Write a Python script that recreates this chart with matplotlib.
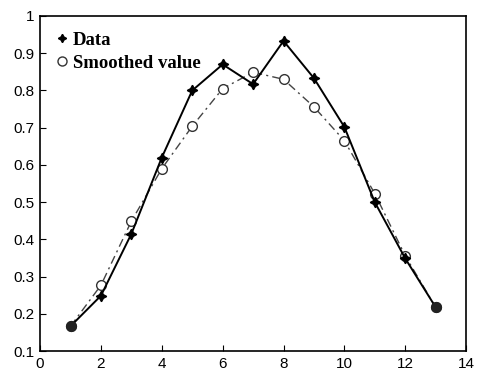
import numpy as np
import matplotlib.pyplot as plt
from matplotlib.lines import Line2D

# values
x = np.arange(1, 14)
data = np.array([0.167, 0.249, 0.415, 0.62, 0.80, 0.87, 0.817, 0.933, 0.833, 0.702, 0.50, 0.349, 0.218])
smoothed = np.array([0.167, 0.277, 0.449, 0.59, 0.704, 0.805, 0.849, 0.830, 0.756, 0.665, 0.523, 0.356, 0.218])

xticks = np.arange(0, 15, 2)
yticks = np.round(np.arange(0.1, 1.01, 0.1), 1)
ytick_labels = ['0.1', '0.2', '0.3', '0.4', '0.5', '0.6', '0.7', '0.8', '0.9', '1']

star = (4, 1, 0)

fig = plt.figure(figsize=(4.83, 3.72), dpi=100)
ax = fig.add_axes([0.083, 0.056, 0.882, 0.901])

ax.plot(x, smoothed, color='#444444', linestyle=(0, (6, 3, 1.5, 3)), linewidth=1.0,
        marker='o', markersize=7, markerfacecolor='white', markeredgecolor='#333333', markeredgewidth=1.0)
ax.plot(x, data, color='black', linewidth=1.4, marker=star, markersize=7.5)
# first and last points coincide, look like solid dots
ends = [0, -1]
ax.plot(x[ends], data[ends], 'o', color='#222222', markersize=7, linestyle='none')

ax.set_xlim(0, 14)
ax.set_ylim(0.1, 1.0)
ax.set_xticks(xticks)
ax.set_yticks(yticks)
ax.set_yticklabels(ytick_labels)
ax.tick_params(direction='in', length=4, labelsize=11, top=False, right=False, pad=4)
for lab in ax.get_xticklabels() + ax.get_yticklabels():
    lab.set_family('Liberation Sans')
for s in ax.spines.values():
    s.set_linewidth(1.2)

handles = [
    Line2D([], [], color='black', marker=star, markersize=6, linestyle='none'),
    Line2D([], [], color='#333333', marker='o', markersize=6.5, markerfacecolor='white', linestyle='none'),
]
ax.legend(handles, ['Data', 'Smoothed value'], loc='upper left', frameon=False,
          prop={'family': 'Liberation Serif', 'weight': 'bold', 'size': 13.5},
          handlelength=0.6, handletextpad=0.3, labelspacing=0.3, borderaxespad=0.5,
          borderpad=0.35)

fig.savefig('out.png', dpi=100)
